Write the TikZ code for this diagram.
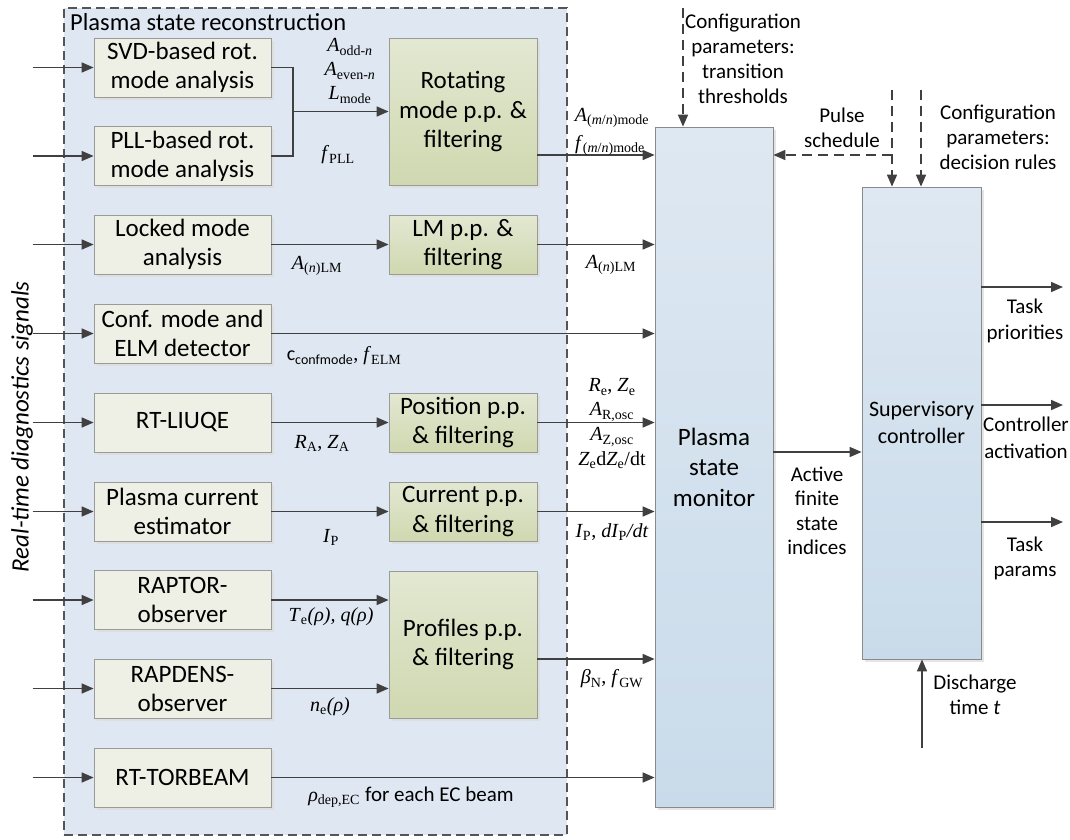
\documentclass[tikz,border=0pt]{standalone}
\usepackage{fontspec}
\setmainfont{Carlito}
\newfontfamily\tms{Liberation Serif}
\usetikzlibrary{arrows.meta,shadows,calc}
\definecolor{contfill}{HTML}{DFE8F2}
\definecolor{contdraw}{HTML}{555555}
\definecolor{lfill}{HTML}{EEF0E5}
\definecolor{boxborder}{HTML}{9A9A9A}
\definecolor{gtop}{HTML}{E3E8D2}
\definecolor{gbot}{HTML}{CFD8B0}
\definecolor{btop}{HTML}{DEE8F2}
\definecolor{bbot}{HTML}{C9DBEA}
\definecolor{bborder}{HTML}{8A8A8A}
\definecolor{arrcol}{HTML}{404040}
\newcommand\boxfont{\fontsize{25}{29}\selectfont}
\newcommand\gfont{\fontsize{25}{29.5}\selectfont}
\newcommand\lblfont{\tms\fontsize{20}{24}\selectfont}
\newcommand\sbs[1]{\textsubscript{#1}}
\begin{document}
\begin{tikzpicture}[x=1pt,y=-1pt,
  container/.style={draw=contdraw, fill=contfill, line width=1.1pt, dash pattern=on 9pt off 5pt},
  lbox/.style={draw=boxborder, fill=lfill, minimum width=177pt, minimum height=59pt, align=center, font=\boxfont, inner sep=1pt, line width=0.8pt,
     drop shadow={shadow xshift=2.5pt, shadow yshift=-2.5pt, fill=black!13, opacity=1}},
  gbox/.style={draw=boxborder, top color=gtop, bottom color=gbot, minimum width=148pt, minimum height=59pt, align=center, font=\gfont, inner sep=1pt, line width=0.8pt,
     drop shadow={shadow xshift=2.5pt, shadow yshift=-2.5pt, fill=black!13, opacity=1}},
  bbox/.style={draw=bborder, top color=btop, bottom color=bbot, align=center, inner sep=1pt, line width=0.8pt,
     drop shadow={shadow xshift=2.5pt, shadow yshift=-2.5pt, fill=black!10, opacity=1}},
  ln/.style={draw=arrcol, line width=1.6pt},
  arr/.style={draw=arrcol, line width=1.6pt, -{Triangle[length=12pt,width=10pt]}},
  darr/.style={arr, dash pattern=on 10pt off 6pt},
  lbl/.style={font=\lblfont, inner sep=0pt},
  txt/.style={font=\fontsize{21}{25}\selectfont, align=center, inner sep=0pt},
]
\useasboundingbox (0,0) rectangle (1070,839);
\fill[white] (0,0) rectangle (1070,839);

% container
\node[container, minimum width=503pt, minimum height=827pt] (psr) at (315.5,421.5) {};
\node[txt, anchor=west, font=\fontsize{24.5}{28}\selectfont] (ttl) at (70,22) {Plasma state reconstruction};

% vertical label
\node[txt, rotate=90, font=\fontsize{25}{29}\selectfont\itshape] (rtd) at (22,427) {Real-time diagnostics signals};

% left boxes
\node[lbox] (svd) at (182.5,67.5) {SVD-based rot.\\mode analysis};
\node[lbox] (pll) at (182.5,156) {PLL-based rot.\\mode analysis};
\node[lbox] (lma) at (182.5,244.5) {Locked mode\\analysis};
\node[lbox] (conf) at (182.5,333.5) {Conf. mode and\\ELM detector};
\node[lbox] (liuqe) at (182.5,422.5) {RT-LIUQE};
\node[lbox] (ipest) at (182.5,511.5) {Plasma current\\estimator};
\node[lbox] (raptor) at (182.5,600) {RAPTOR-\\observer};
\node[lbox] (rapdens) at (182.5,688.5) {RAPDENS-\\observer};
\node[lbox] (torbeam) at (182.5,777.5) {RT-TORBEAM};

% green boxes
\node[gbox, minimum height=147pt] (rot) at (463,111.5) {Rotating\\mode p.p. \&\\filtering};
\node[gbox] (lmpp) at (463,244.5) {LM p.p. \&\\filtering};
\node[gbox] (pos) at (463,422.5) {Position p.p.\\\& filtering};
\node[gbox] (cur) at (463,511.5) {Current p.p.\\\& filtering};
\node[gbox, minimum height=147pt] (prof) at (463,644.5) {Profiles p.p.\\\& filtering};

% monitor & supervisory
\node[bbox, minimum width=118pt, minimum height=680pt, font=\fontsize{25}{30.5}\selectfont] (mon) at (714,467) {Plasma\\state\\monitor};
\node[bbox, minimum width=119pt, minimum height=472pt, font=\fontsize{22}{27}\selectfont] (sup) at (921.5,423) {Supervisory\\controller};

% inputs
\foreach \n in {svd,pll,lma,conf,liuqe,ipest,raptor,rapdens,torbeam}
  \draw[arr] ([xshift=-61pt]\n.west) -- (\n.west);

% rotating mode merge
\coordinate (mj) at (293,111.5);
\draw[ln] (svd.east) -| (mj);
\draw[ln] (pll.east) -| (mj);
\draw[arr] (mj) -- (rot.west);
\coordinate (rotout) at ([yshift=-43.5pt]rot.east);
\draw[arr] (rotout) -- (rotout -| mon.west);

% other connectors
\draw[arr] (lma.east) -- (lmpp.west);
\draw[arr] (lmpp.east) -- (lmpp.east -| mon.west);
\draw[arr] (conf.east) -- (conf.east -| mon.west);
\draw[arr] (liuqe.east) -- (pos.west);
\draw[arr] (pos.east) -- (pos.east -| mon.west);
\draw[arr] (ipest.east) -- (cur.west);
\draw[arr] (cur.east) -- (cur.east -| mon.west);
\draw[arr] (raptor.east) -- (raptor.east -| prof.west);
\draw[arr] (rapdens.east) -- (rapdens.east -| prof.west);
\coordinate (profout) at ([yshift=-14.5pt]prof.east);
\draw[arr] (profout) -- (profout -| mon.west);
\draw[arr] (torbeam.east) -- (torbeam.east -| mon.west);

% monitor -> supervisory
\coordinate (monout) at ([yshift=15pt]mon.east);
\draw[arr] (monout) -- (monout -| sup.west);

% supervisory outputs
\coordinate (so1) at ([yshift=136pt]sup.east);
\coordinate (so2) at ([yshift=18pt]sup.east);
\coordinate (so3) at ([yshift=-99pt]sup.east);
\coordinate (se1) at (1063,287);
\coordinate (se2) at (1063,405);
\coordinate (se3) at (1063,522);
\draw[arr] (so1) -- (se1);
\draw[arr] (so2) -- (se2);
\draw[arr] (so3) -- (se3);

% dashed inputs
\coordinate (ctop) at (683,8);
\draw[darr] (ctop) -- (ctop |- mon.north);
\coordinate (pstop) at (892,90);
\draw[darr] (pstop) -- (pstop |- sup.north);
\coordinate (psb) at (892,155);
\draw[darr] (psb) -- (psb -| mon.east);
\coordinate (drtop) at (921,90);
\draw[darr] (drtop) -- (drtop |- sup.north);

% discharge time
\coordinate (dt) at (922,748);
\draw[arr] (dt) -- (dt |- sup.south);

% labels (signals)
\node[lbl] (l1) at (350,47) {\textit{A}\sbs{odd-\textit{n}}};
\node[lbl] (l2) at (350,71) {\textit{A}\sbs{even-\textit{n}}};
\node[lbl] (l3) at (350,95) {\textit{L}\sbs{mode}};
\node[lbl] (l4) at (338,155) {\textit{f}\sbs{PLL}};
\node[lbl] (l5) at (612,118) {\textit{A}\sbs{(\textit{m}/\textit{n})mode}};
\node[lbl] (l6) at (610,145) {\textit{f}\sbs{(\textit{m}/\textit{n})mode}};
\node[lbl] (l7) at (317,266) {\textit{A}\sbs{(\textit{n})LM}};
\node[lbl] (l8) at (611,265) {\textit{A}\sbs{(\textit{n})LM}};
\node[lbl] (l9) at (344,356) {{\rmfamily c\sbs{confmode}}, \textit{f}\sbs{ELM}};
\node[lbl] (l10) at (322,443) {\textit{R}\sbs{A}, \textit{Z}\sbs{A}};
\node[lbl] (l11) at (612,387) {\textit{R}\sbs{e}, \textit{Z}\sbs{e}};
\node[lbl] (l12) at (612,412) {\textit{A}\sbs{R,osc}};
\node[lbl] (l13) at (612,437) {\textit{A}\sbs{Z,osc}};
\node[lbl] (l14) at (612,460) {\textit{Z}\sbs{e}d\textit{Z}\sbs{e}/dt};
\node[lbl] (l15) at (331,537) {\textit{I}\sbs{P}};
\node[lbl] (l16) at (612,532) {\textit{I}\sbs{P}, \textit{dI}\sbs{P}\textit{/dt}};
\node[lbl] (l17) at (331,617) {\textit{T}\sbs{e}\textit{(ρ), q(ρ)}};
\node[lbl] (l18) at (330,707) {\textit{n}\sbs{e}\textit{(ρ)}};
\node[lbl] (l19) at (612,679) {\textit{β}\sbs{N}, \textit{f}\sbs{GW}};
\node[lbl] (l20) at (411,797) {\textit{ρ}\sbs{dep,EC} {\rmfamily\fontsize{21}{25}\selectfont for each EC beam}};

% text labels
\node[txt] (cfg1) at (743,59) {Configuration\\parameters:\\transition\\thresholds};
\node[txt] (pls) at (842,128) {Pulse\\schedule};
\node[txt] (cfg2) at (998,137) {Configuration\\parameters:\\decision rules};
\node[txt, font=\fontsize{21}{26}\selectfont] (tp) at (1025,321) {Task\\priorities};
\node[txt, font=\fontsize{21}{27}\selectfont] (ca) at (1026,438) {Controller\\activation};
\node[txt, font=\fontsize{21}{25}\selectfont] (tpar) at (1025,558) {Task\\params};
\node[txt, font=\fontsize{21}{24.5}\selectfont] (afs) at (817,511) {Active\\finite\\state\\indices};
\node[txt] (dis) at (975,695) {Discharge\\time \textit{t}};
\end{tikzpicture}
\end{document}
